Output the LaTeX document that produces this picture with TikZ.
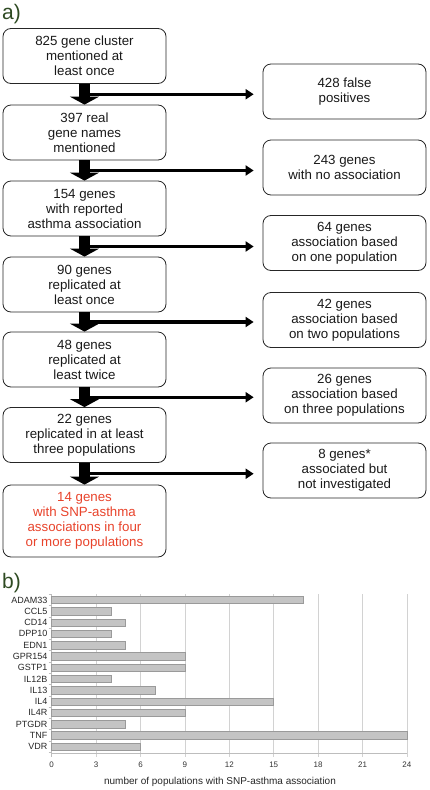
\documentclass[tikz,border=0pt]{standalone}
\usepackage{fontspec}
\setmainfont{Liberation Sans}
\usetikzlibrary{arrows.meta,calc}
\definecolor{lblgreen}{HTML}{2E4A22}
\definecolor{redtxt}{HTML}{E8432B}
\definecolor{barfill}{HTML}{C4C4C4}
\definecolor{barline}{HTML}{9A9A9A}
\definecolor{gridc}{HTML}{D2D2D2}
\definecolor{axisc}{HTML}{BDBDBD}
\begin{document}
\begin{tikzpicture}[x=1pt,y=-1pt,
  box/.style={draw=black!85, line width=0.8pt, rounded corners=8pt,
    minimum width=163pt, minimum height=55pt, align=center, inner sep=0pt,
    font=\fontsize{13.3}{15}\selectfont, text=black!90},
  downarrow/.style={line width=11pt, -{Triangle[width=29pt,length=8pt]}},
  sidearrow/.style={line width=3.2pt, -{Triangle[width=10pt,length=8pt]}},
  panel/.style={font=\fontsize{21}{21}\selectfont, text=lblgreen, anchor=base west, inner sep=0pt},
  catlbl/.style={font=\fontsize{9}{9}\selectfont, text=black!85, anchor=east, inner sep=0pt},
  ticklbl/.style={font=\fontsize{8}{8}\selectfont, text=black!80, inner sep=0pt},
  bar/.style={fill=barfill, draw=barline, line width=0.5pt},
  gridl/.style={draw=gridc, line width=0.8pt},
  axisl/.style={draw=axisc, line width=0.8pt}
]
\useasboundingbox (0,0) rectangle (430,790);

% panel labels
\node[panel] (pa) at (2,19.5) {a)};
\node[panel] (pb) at (2,588) {b)};

% left column
\node[box] (L1) at (84.5,56) {825 gene cluster\\mentioned at\\least once};
\node[box] (L2) at (84.5,132.5) {397 real\\gene names\\mentioned};
\node[box] (L3) at (84.5,208.5) {154 genes\\with reported\\asthma association};
\node[box] (L4) at (84.5,284.5) {90 genes\\replicated at\\least once};
\node[box] (L5) at (84.5,359.5) {48 genes\\replicated at\\least twice};
\node[box] (L6) at (84.5,435) {22 genes\\replicated in at least\\three populations};
\node[box, minimum height=72pt, text=redtxt] (L7) at (84.5,521) {14 genes\\with SNP-asthma\\associations in four\\or more populations};

% right column
\node[box] (R1) at (344.5,91.5) {428 false\\positives};
\node[box] (R2) at (344.5,167.5) {243 genes\\with no association};
\node[box] (R3) at (344.5,243) {64 genes\\association based\\on one population};
\node[box] (R4) at (344.5,320) {42 genes\\association based\\on two populations};
\node[box] (R5) at (344.5,395.5) {26 genes\\association based\\on three populations};
\node[box] (R6) at (344.5,470.5) {8 genes*\\associated but\\not investigated};

% connectors
\foreach \a/\b/\r in {L1/L2/R1, L2/L3/R2, L3/L4/R3, L4/L5/R4, L5/L6/R5, L6/L7/R6} {
  \coordinate (m\a) at ($(\a.south)!0.5!(\b.north)$);
  \draw[sidearrow] (m\a) -- ([xshift=-9pt]m\a -| \r.west);
  \draw[downarrow] (\a.south) -- (\b.north);
}

% bar chart
\foreach \t in {3,6,...,24} {
  \draw[gridl] ({51.7+\t*14.8},594) -- ({51.7+\t*14.8},757);
}
\draw[axisl] (51.7,594) -- (51.7,757);
\draw[axisl] (51.7,753) -- (406.9,753);
\foreach \k in {0,...,14} {
  \draw[axisl] (48.7,{594.4+\k*11.28}) -- (51.7,{594.4+\k*11.28});
}
\foreach \t in {0,3,...,24} {
  \node[ticklbl] (t\t) at ({51.7+\t*14.8},765) {\t};
}
\foreach \i/\n/\v in {0/ADAM33/17, 1/CCL5/4, 2/CD14/5, 3/DPP10/4, 4/EDN1/5,
    5/GPR154/9, 6/GSTP1/9, 7/IL12B/4, 8/IL13/7, 9/IL4/15, 10/IL4R/9,
    11/PTGDR/5, 12/TNF/24, 13/VDR/6} {
  \pgfmathsetmacro\yc{600+\i*11.28}
  \node[catlbl] (c\i) at (47.5,\yc) {\n};
  \draw[bar] (51.7,{\yc-3.7}) rectangle ({51.7+\v*14.8},{\yc+3.7});
}
\node[font=\fontsize{10}{10}\selectfont, text=black!85, inner sep=0pt] (xt) at (220,782) {number of populations with SNP-asthma association};
\end{tikzpicture}
\end{document}
